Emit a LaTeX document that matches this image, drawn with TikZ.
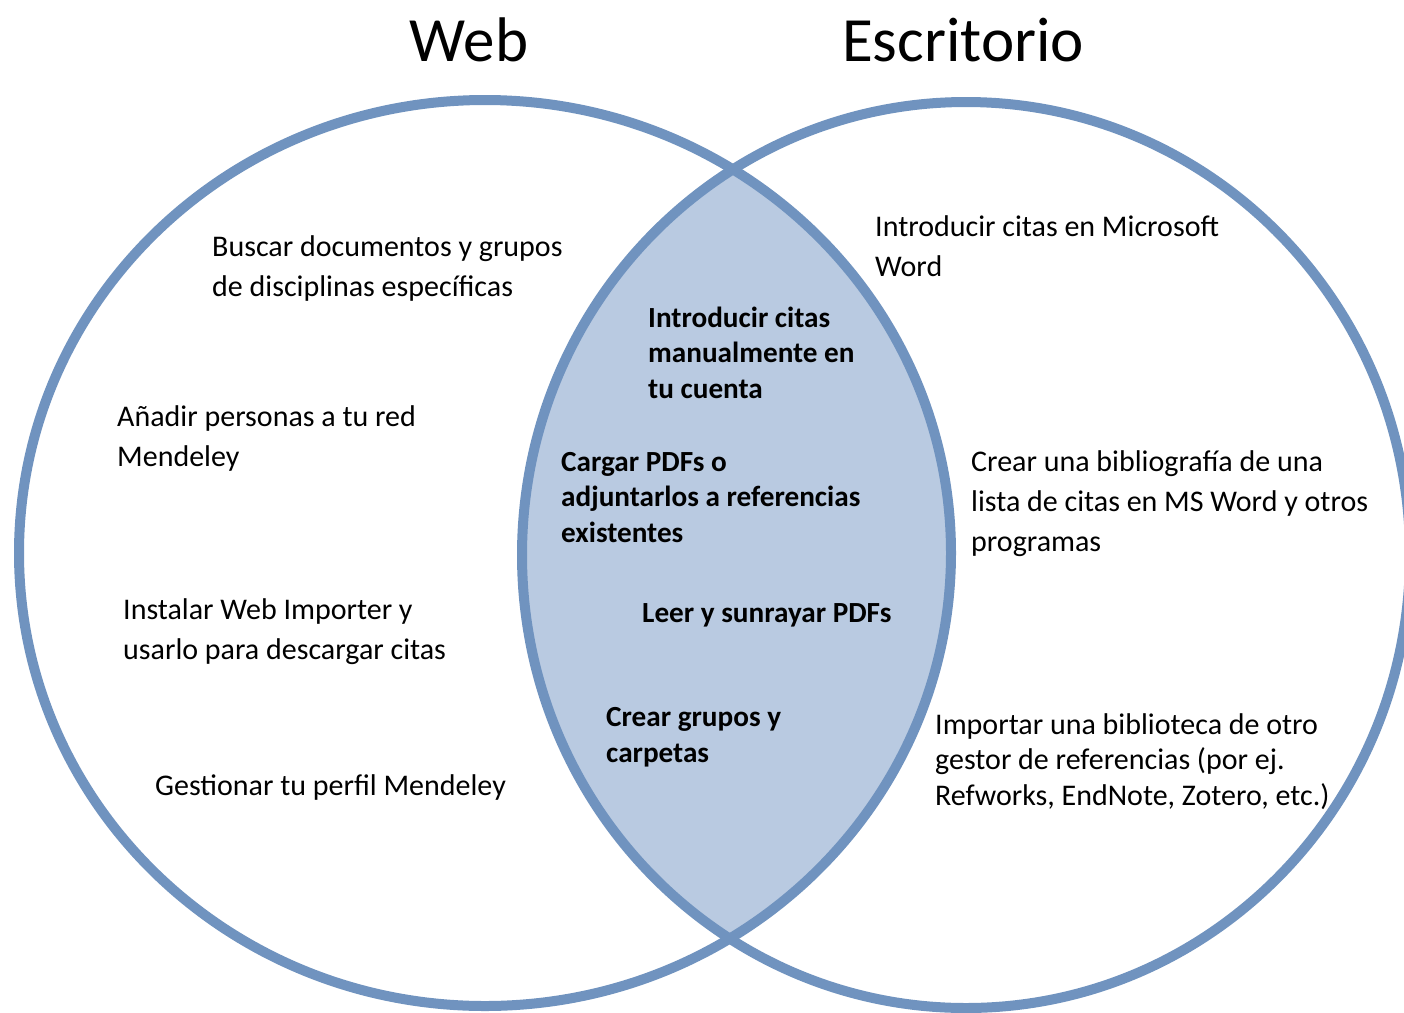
\documentclass[tikz,border=0pt]{standalone}
\usepackage{fontspec}
\setmainfont{Carlito}
\definecolor{vennline}{RGB}{112,147,191}
\definecolor{vennfill}{RGB}{185,202,225}
\tikzset{x=1pt,y=-1pt,
  item/.style={anchor=base west,align=left,inner sep=0pt,font=\fontsize{30}{#1}\selectfont},
  item/.default=40,
  shared/.style={anchor=base west,align=left,inner sep=0pt,font=\fontsize{29.2}{35.5}\selectfont\bfseries},
  title/.style={anchor=base,inner sep=0pt,font=\fontsize{63}{70}\selectfont}}

\begin{document}
\begin{tikzpicture}
  \useasboundingbox (0,0) rectangle (1404,1012);

  % interseccion
  \begin{scope}
    \clip (485,553) ellipse [x radius=466pt, y radius=453pt];
    \fill[vennfill] (966,555) ellipse [x radius=444pt, y radius=453pt];
  \end{scope}
  \draw[vennline,line width=10pt] (485,553) ellipse [x radius=466pt, y radius=453pt];
  \draw[vennline,line width=10pt] (966,555) ellipse [x radius=444pt, y radius=453pt];

  \node (WEB) [title] at (469,61) {Web};
  \node (ESC) [title] at (963,61) {Escritorio};

  % solo web (base = ultima linea)
  \node (BUS) [item] at (212,296) {Buscar documentos y grupos\\de disciplinas específicas};
  \node (ANA) [item] at (117,466) {Añadir personas a tu red\\Mendeley};
  \node (INS) [item] at (123,659) {Instalar Web Importer y\\usarlo para descargar citas};
  \node (GES) [item] at (155,795) {Gestionar tu perfil Mendeley};

  % ambos
  \node (MAN) [shared] at (648,398) {Introducir citas\\manualmente en\\tu cuenta};
  \node (CAR) [shared] at (561,542) {Cargar PDFs o\\adjuntarlos a referencias\\existentes};
  \node (LEE) [shared] at (642,622) {Leer y sunrayar PDFs};
  \node (GRU) [shared] at (606,762) {Crear grupos y\\carpetas};

  % solo escritorio
  \node (WOR) [item] at (875,276) {Introducir citas en Microsoft\\Word};
  \node (BIB) [item] at (971,551) {Crear una bibliografía de una\\lista de citas en MS Word y otros\\programas};
  \node (IMP) [item=35.5] at (935,805) {Importar una biblioteca de otro\\gestor de referencias (por ej.\\Refworks, EndNote, Zotero, etc.)};
\end{tikzpicture}
\end{document}
